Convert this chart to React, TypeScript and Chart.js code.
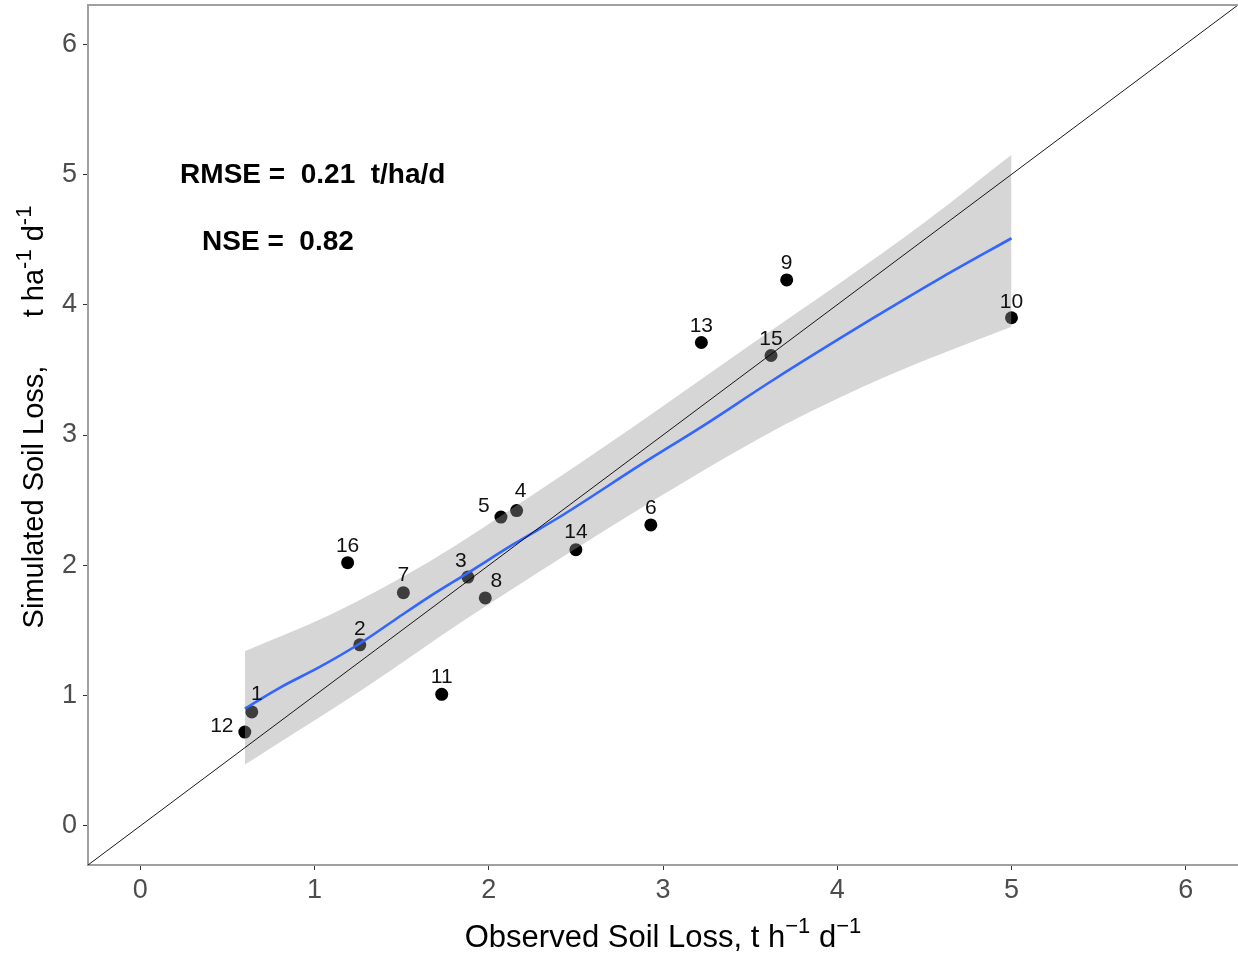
import React, { useEffect, useRef } from 'react';
import { Chart, registerables } from 'chart.js';

Chart.register(...registerables);

// ---------- data ----------
const sampleIds = ['1', '2', '3', '4', '5', '6', '7', '8', '9', '10', '11', '12', '13', '14', '15', '16'];
const observed = [0.64, 1.26, 1.88, 2.16, 2.07, 2.93, 1.51, 1.98, 3.71, 5.0, 1.73, 0.6, 3.22, 2.5, 3.62, 1.19];
const simulated = [0.875, 1.39, 1.91, 2.42, 2.37, 2.31, 1.79, 1.75, 4.19, 3.9, 1.01, 0.72, 3.71, 2.12, 3.61, 2.02];

const smoothX = [0.6, 0.8, 1.03, 1.26, 1.47, 1.66, 1.89, 2.14, 2.43, 2.87, 3.23, 3.63, 4.21, 4.6, 5.0];
const smoothY = [0.9, 1.06, 1.22, 1.4, 1.59, 1.76, 1.95, 2.16, 2.39, 2.77, 3.07, 3.42, 3.9, 4.21, 4.51];

const upperX = [0.6, 1.09, 1.66, 2.24, 2.87, 3.5, 4.02, 4.5, 5.0];
const upperY = [1.34, 1.62, 2.03, 2.53, 3.1, 3.69, 4.17, 4.63, 5.15];
const lowerX = [0.6, 1.28, 1.85, 2.43, 3.16, 3.7, 4.3, 5.0];
const lowerY = [0.47, 1.05, 1.57, 2.07, 2.67, 3.08, 3.46, 3.83];

const axisMin = -0.3;
const axisMax = 6.3;
const axisTicks = [0, 1, 2, 3, 4, 5, 6];

const rmseText = 'RMSE =  0.21  t/ha/d';
const nseText = 'NSE =  0.82';
const rmsePos = { x: 0.99, y: 4.99 };
const nsePos = { x: 0.79, y: 4.48 };

// label nudges in pixels (style only)
const labelNudge: Record<string, [number, number]> = {
  '1': [5, -18], '2': [0, -16], '3': [-7, -16], '4': [4, -19], '5': [-17, -11], '6': [0, -17],
  '7': [0, -17], '8': [11, -17], '9': [0, -17], '10': [0, -16], '11': [0, -17], '12': [-23, -6],
  '13': [0, -16], '14': [0, -17], '15': [0, -16], '16': [0, -16],
};

const FONT = '"Liberation Sans", Arial, Helvetica, sans-serif';

type Seg = { t: string; sup?: boolean };
const xTitle: Seg[] = [{ t: 'Observed Soil Loss, t h' }, { t: '\u22121', sup: true }, { t: ' d' }, { t: '\u22121', sup: true }];
const yTitle: Seg[] = [{ t: 'Simulated Soil Loss,      t ha' }, { t: '-1', sup: true }, { t: ' d' }, { t: '-1', sup: true }];

function drawRich(ctx: CanvasRenderingContext2D, segs: Seg[], cx: number, baseY: number, size: number, supSize: number, raise: number) {
  const widths = segs.map((s) => {
    ctx.font = `${s.sup ? supSize : size}px ${FONT}`;
    return ctx.measureText(s.t).width;
  });
  const total = widths.reduce((a, b) => a + b, 0);
  let x = cx - total / 2;
  ctx.textAlign = 'left';
  ctx.textBaseline = 'alphabetic';
  segs.forEach((s, i) => {
    ctx.font = `${s.sup ? supSize : size}px ${FONT}`;
    ctx.fillText(s.t, x, s.sup ? baseY - raise : baseY);
    x += widths[i];
  });
}

const overlayPlugin = {
  id: 'overlay',
  afterDatasetsDraw(chart: any) {
    const { ctx, scales } = chart;
    const xs = scales.x;
    const ys = scales.y;
    ctx.save();
    ctx.font = `21px ${FONT}`;
    ctx.fillStyle = '#111111';
    ctx.textAlign = 'center';
    ctx.textBaseline = 'middle';
    sampleIds.forEach((id, i) => {
      const [dx, dy] = labelNudge[id];
      ctx.fillText(id, xs.getPixelForValue(observed[i]) + dx, ys.getPixelForValue(simulated[i]) + dy);
    });
    ctx.font = `bold 28px ${FONT}`;
    ctx.fillStyle = '#000000';
    ctx.fillText(rmseText, xs.getPixelForValue(rmsePos.x), ys.getPixelForValue(rmsePos.y));
    ctx.fillText(nseText, xs.getPixelForValue(nsePos.x), ys.getPixelForValue(nsePos.y));
    ctx.restore();
  },
  afterDraw(chart: any) {
    const { ctx, chartArea } = chart;
    ctx.save();
    // top border
    ctx.strokeStyle = '#a0a0a0';
    ctx.lineWidth = 2;
    ctx.beginPath();
    ctx.moveTo(chartArea.left, chartArea.top);
    ctx.lineTo(chartArea.right, chartArea.top);
    ctx.stroke();
    // axis titles
    ctx.fillStyle = '#000000';
    drawRich(ctx, xTitle, (chartArea.left + chartArea.right) / 2, 947, 31, 22, 14);
    ctx.translate(43, 417);
    ctx.rotate(-Math.PI / 2);
    drawRich(ctx, yTitle, 0, 0, 29, 22, 12);
    ctx.restore();
  },
};

export default function App() {
  const ref = useRef<HTMLCanvasElement>(null);
  useEffect(() => {
    if (!ref.current) return;
    const pts = (xs: number[], ys: number[]) => xs.map((v, i) => ({ x: v, y: ys[i] }));
    const chart = new Chart(ref.current, {
      type: 'scatter',
      data: {
        datasets: [
          {
            type: 'line',
            label: '1:1',
            data: [{ x: axisMin, y: axisMin }, { x: axisMax, y: axisMax }],
            borderColor: '#000000',
            borderWidth: 0.9,
            pointRadius: 0,
            fill: false,
            order: 0,
          },
          {
            type: 'line',
            label: 'smooth',
            data: pts(smoothX, smoothY),
            borderColor: '#3366FF',
            borderWidth: 2.6,
            pointRadius: 0,
            fill: false,
            cubicInterpolationMode: 'monotone',
            order: 1,
          },
          {
            type: 'line',
            label: 'upper',
            data: pts(upperX, upperY),
            borderColor: 'rgba(0,0,0,0)',
            borderWidth: 0,
            pointRadius: 0,
            fill: '+1',
            backgroundColor: 'rgba(153,153,153,0.4)',
            cubicInterpolationMode: 'monotone',
            order: 2,
          },
          {
            type: 'line',
            label: 'lower',
            data: pts(lowerX, lowerY),
            borderColor: 'rgba(0,0,0,0)',
            borderWidth: 0,
            pointRadius: 0,
            fill: false,
            cubicInterpolationMode: 'monotone',
            order: 3,
          },
          {
            type: 'scatter',
            label: 'points',
            data: pts(observed, simulated),
            backgroundColor: '#000000',
            borderColor: '#000000',
            borderWidth: 0,
            pointRadius: 6.5,
            order: 4,
          },
        ] as any,
      },
      options: {
        animation: false,
        responsive: false,
        events: [],
        layout: { autoPadding: false, padding: { top: 5, right: 0, left: 0, bottom: 0 } },
        plugins: { legend: { display: false }, tooltip: { enabled: false }, title: { display: false } },
        scales: {
          x: {
            type: 'linear',
            min: axisMin,
            max: axisMax,
            afterBuildTicks: (s: any) => {
              s.ticks = axisTicks.map((v) => ({ value: v }));
            },
            afterFit: (s: any) => {
              s.height = 90;
              s.paddingLeft = 0;
              s.paddingRight = 0;
            },
            grid: { drawOnChartArea: false, drawTicks: true, tickLength: 5, color: '#333333', lineWidth: 1 },
            border: { display: true, color: '#a0a0a0', width: 2 },
            ticks: { color: '#4d4d4d', font: { family: FONT, size: 27 }, padding: 4, autoSkip: false, maxRotation: 0 },
          },
          y: {
            type: 'linear',
            min: axisMin,
            max: axisMax,
            afterBuildTicks: (s: any) => {
              s.ticks = axisTicks.map((v) => ({ value: v }));
            },
            afterFit: (s: any) => {
              s.width = 88;
              s.paddingTop = 0;
              s.paddingBottom = 0;
            },
            grid: { drawOnChartArea: false, drawTicks: true, tickLength: 5, color: '#333333', lineWidth: 1 },
            border: { display: true, color: '#a0a0a0', width: 2 },
            ticks: { color: '#4d4d4d', font: { family: FONT, size: 27 }, padding: 6, autoSkip: false },
          },
        },
      },
      plugins: [overlayPlugin],
    });
    return () => chart.destroy();
  }, []);
  return (
    <div style={{ position: 'absolute', left: 0, top: 0, width: 1238, height: 955, background: '#ffffff' }}>
      <canvas ref={ref} width={1238} height={955} style={{ display: 'block' }} />
    </div>
  );
}
